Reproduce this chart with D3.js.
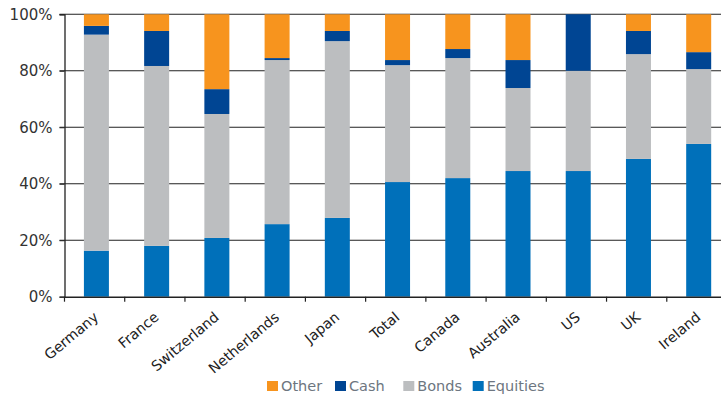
<!DOCTYPE html>
<html>
<head>
<meta charset="utf-8">
<script src="https://cdn.jsdelivr.net/npm/d3@7"></script>
<style>
  html, body { margin: 0; padding: 0; background: #fff; }
  svg { display: block; }
  text { font-family: "DejaVu Sans", Verdana, sans-serif; }
</style>
</head>
<body>
<svg id="chart" width="721" height="398"></svg>
<script>
// Asset allocation by country (% of portfolio)
const countries = ["Germany", "France", "Switzerland", "Netherlands", "Japan", "Total",
                   "Canada", "Australia", "US", "UK", "Ireland"];
const equities = [16.3, 18.0, 20.8, 25.7, 27.9, 40.6, 42.0, 44.5, 44.5, 48.8, 54.1];
const bonds    = [76.5, 63.7, 43.9, 58.1, 62.6, 41.4, 42.5, 29.4, 35.5, 37.1, 26.5];
const cash     = [ 3.1, 12.4,  8.8,  0.7,  3.6,  1.8,  3.2,  9.9, 20.0,  8.2,  6.0];
const other    = [ 4.1,  5.9, 26.5, 15.5,  5.9, 16.2, 12.3, 16.2,  0.0,  5.9, 13.4];
const yTicks = [0, 20, 40, 60, 80, 100];

const seriesKeys = ["Equities", "Bonds", "Cash", "Other"];
const colors = { Equities: "#0070BA", Bonds: "#BCBEC0", Cash: "#004593", Other: "#F7941E" };
const legendOrder = ["Other", "Cash", "Bonds", "Equities"];

const rows = countries.map((c, i) => ({
  country: c, Equities: equities[i], Bonds: bonds[i], Cash: cash[i], Other: other[i]
}));

const svg = d3.select("#chart");
const plotLeft = 64.5, plotRight = 727, plotTop = 14.3, plotBottom = 296.7;

const x = d3.scaleBand().domain(countries).range([plotLeft, plotRight]).padding(0);
const y = d3.scaleLinear().domain([0, 100]).range([plotBottom, plotTop]);
const barW = 25;
const barX = d => x(d) + (x.bandwidth() - barW) / 2 + 1.8;

// gridlines
svg.append("g")
  .selectAll("line").data(yTicks.filter(t => t > 0)).join("line")
  .attr("x1", plotLeft - 5).attr("x2", 721)
  .attr("y1", d => y(d)).attr("y2", d => y(d))
  .attr("stroke", "#222").attr("stroke-width", 1.1);

// stacked bars
const stack = d3.stack().keys(seriesKeys)(rows);
svg.append("g")
  .selectAll("g").data(stack).join("g")
  .attr("fill", s => colors[s.key])
  .selectAll("rect").data(s => s.map(v => ({ v, country: v.data.country }))).join("rect")
  .attr("x", d => barX(d.country))
  .attr("width", barW)
  .attr("y", d => y(d.v[1]))
  .attr("height", d => y(d.v[0]) - y(d.v[1]));

// y axis
const yAxis = svg.append("g").attr("transform", `translate(${plotLeft},0)`)
  .call(d3.axisLeft(y).tickValues(yTicks).tickSize(5).tickFormat(d => d + "%"));
yAxis.select(".domain").attr("stroke", "#222").attr("stroke-width", 1.3);
yAxis.selectAll(".tick line").attr("stroke", "#222");
yAxis.selectAll("text").attr("font-size", 15).attr("fill", "#333")
  .attr("x", -12).attr("font-family", "DejaVu Sans, sans-serif");

// x axis
const xAxis = svg.append("g").attr("transform", `translate(0,${plotBottom})`)
  .call(d3.axisBottom(x).tickSize(0).tickFormat(""));
xAxis.select(".domain").attr("stroke", "#222").attr("stroke-width", 1.6);
xAxis.selectAll(".tick").remove();

// category boundary ticks
const bounds = countries.map(c => x(c)).concat([plotRight]);
svg.append("g").selectAll("line").data(bounds).join("line")
  .attr("x1", d => d).attr("x2", d => d)
  .attr("y1", plotBottom).attr("y2", plotBottom + 5)
  .attr("stroke", "#222").attr("stroke-width", 1.2);

// rotated category labels
svg.append("g").selectAll("text").data(countries).join("text")
  .attr("transform", d => `translate(${barX(d) + barW / 2 + 3},${plotBottom + 22}) rotate(-40)`)
  .attr("text-anchor", "end")
  .attr("font-size", 14.2)
  .attr("fill", "#222")
  .text(d => d);

// legend
const legendX = [267, 335, 403.3, 472.7];
const legend = svg.append("g").selectAll("g").data(legendOrder).join("g")
  .attr("transform", (d, i) => `translate(${legendX[i]},381)`);
legend.append("rect").attr("width", 11).attr("height", 10).attr("fill", d => colors[d]);
legend.append("text").attr("x", 14).attr("y", 9.8)
  .attr("font-size", 14.5).attr("fill", "#6d7680").text(d => d);
</script>
</body>
</html>
